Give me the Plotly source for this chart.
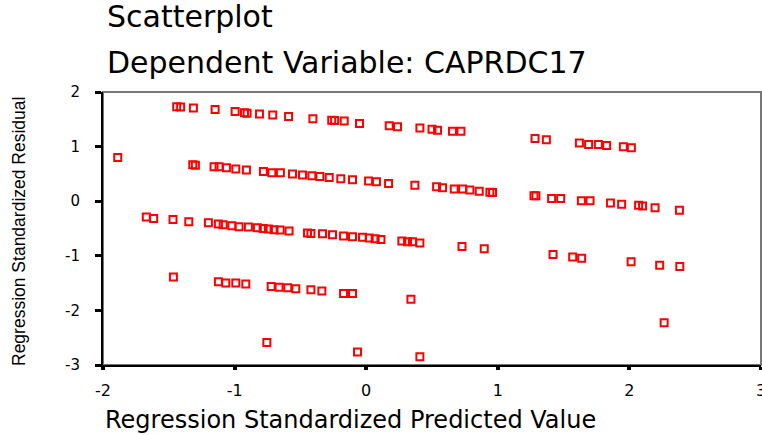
import plotly.graph_objects as go

# Regression standardized predicted values (x) and standardized residuals (y)
pred_top = [-1.44, -1.41, -1.313, -1.148, -0.996, -0.925, -0.905, -0.811, -0.71, -0.59,
            -0.405, -0.262, -0.24, -0.167, -0.051, 0.175, 0.238, 0.408, 0.5, 0.542,
            0.656, 0.72, 1.283, 1.369, 1.62, 1.69, 1.764, 1.827, 1.954, 2.015]
resid_top = [1.73, 1.725, 1.707, 1.68, 1.645, 1.62, 1.61, 1.597, 1.58, 1.553,
             1.51, 1.483, 1.478, 1.468, 1.425, 1.383, 1.365, 1.34, 1.32, 1.30,
             1.28, 1.28, 1.15, 1.126, 1.066, 1.04, 1.04, 1.02, 0.998, 0.98]

pred_mid = [-1.888, -1.318, -1.298, -1.156, -1.118, -1.062, -0.991, -0.91, -0.781, -0.717,
            -0.652, -0.56, -0.484, -0.413, -0.352, -0.281, -0.193, -0.104, 0.018, 0.078,
            0.17, 0.37, 0.535, 0.58, 0.669, 0.733, 0.788, 0.859, 0.94, 0.96,
            1.275, 1.29, 1.409, 1.478, 1.635, 1.701, 1.856, 1.941, 2.07, 2.10,
            2.195, 2.38]
resid_mid = [0.80, 0.668, 0.66, 0.632, 0.632, 0.614, 0.59, 0.57, 0.546, 0.522,
             0.522, 0.498, 0.48, 0.467, 0.454, 0.436, 0.412, 0.394, 0.37, 0.357,
             0.326, 0.29, 0.266, 0.247, 0.223, 0.223, 0.205, 0.18, 0.165, 0.16,
             0.10, 0.10, 0.051, 0.051, 0.009, 0.009, -0.033, -0.058, -0.076, -0.09,
             -0.12, -0.168]

pred_low = [-1.671, -1.615, -1.468, -1.348, -1.199, -1.123, -1.087, -1.021, -0.966, -0.895,
            -0.827, -0.783, -0.743, -0.70, -0.654, -0.586, -0.446, -0.42, -0.332, -0.256,
            -0.172, -0.104, -0.028, 0.023, 0.068, 0.112, 0.271, 0.314, 0.352, 0.408,
            0.728, 0.897, 1.42, 1.569, 1.637, 2.013, 2.23, 2.383]
resid_low = [-0.29, -0.315, -0.333, -0.375, -0.394, -0.418, -0.43, -0.449, -0.467, -0.472,
             -0.485, -0.498, -0.51, -0.522, -0.527, -0.546, -0.583, -0.59, -0.595, -0.613,
             -0.637, -0.65, -0.662, -0.674, -0.686, -0.70, -0.729, -0.742, -0.742, -0.766,
             -0.828, -0.87, -0.974, -1.022, -1.047, -1.108, -1.175, -1.194]

pred_bottom = [-1.465, -1.123, -1.067, -0.991, -0.915, -0.722, -0.662, -0.596, -0.535, -0.42,
               -0.337, -0.172, -0.104, 0.34, 2.264, -0.755, -0.066, 0.408]
resid_bottom = [-1.388, -1.474, -1.498, -1.498, -1.517, -1.56, -1.578, -1.584, -1.603, -1.62,
                -1.645, -1.689, -1.689, -1.798, -2.225, -2.59, -2.762, -2.848]

x_ticks = [-2, -1, 0, 1, 2, 3]
y_ticks = [-3, -2, -1, 0, 1, 2]

pred = pred_top + pred_mid + pred_low + pred_bottom
resid = resid_top + resid_mid + resid_low + resid_bottom

fig = go.Figure()
fig.add_trace(go.Scatter(
    x=pred, y=resid, mode="markers",
    marker=dict(symbol="square-open", size=7, color="#FF0000",
                line=dict(width=2, color="#FF0000")),
    showlegend=False, hoverinfo="x+y",
))

fig.update_layout(
    width=762, height=435,
    margin=dict(l=103, r=1, t=92, b=70),
    paper_bgcolor="white", plot_bgcolor="white",
    font=dict(family="DejaVu Sans", color="black"),
    xaxis=dict(range=[-2, 3], tickvals=x_ticks, ticktext=[str(v) for v in x_ticks],
               showgrid=False, zeroline=False, showline=True, linecolor="black", linewidth=2,
               ticks="outside", ticklen=3, tickwidth=4, tickcolor="black",
               tickfont=dict(size=16, family="DejaVu Sans", color="black"),
               ticklabelstandoff=7, ticklabeloverflow="allow", automargin=False),
    yaxis=dict(range=[-3, 2], tickvals=y_ticks, ticktext=[str(v) for v in y_ticks],
               showgrid=False, zeroline=False, showline=True, linecolor="black", linewidth=2,
               ticks="outside", ticklen=6, tickwidth=3, tickcolor="black",
               tickfont=dict(size=15, family="DejaVu Sans", color="black"),
               ticklabelstandoff=12, automargin=False),
    shapes=[dict(type="rect", xref="paper", yref="paper", x0=0, x1=1, y0=0, y1=1,
                 line=dict(color="#777777", width=2), layer="below")],
    annotations=[
        dict(text="Scatterplot", xref="paper", yref="paper", x=0.003, y=1.275,
             xanchor="left", yanchor="middle", showarrow=False,
             font=dict(size=30, family="DejaVu Sans", color="black")),
        dict(text="Dependent Variable: CAPRDC17", xref="paper", yref="paper", x=0.003, y=1.107,
             xanchor="left", yanchor="middle", showarrow=False,
             font=dict(size=30, family="DejaVu Sans", color="black")),
        dict(text="Regression Standardized Predicted Value", xref="paper", yref="paper",
             x=0.0, y=-0.2, xanchor="left", yanchor="middle", showarrow=False,
             font=dict(size=24, family="DejaVu Sans", color="black")),
        dict(text="Regression Standardized Residual", xref="paper", yref="paper",
             x=-0.128, y=0.49, xanchor="center", yanchor="middle", textangle=-90,
             showarrow=False,
             font=dict(size=17.5, family="Liberation Sans", color="black")),
    ],
)

fig.write_html("out.html")
